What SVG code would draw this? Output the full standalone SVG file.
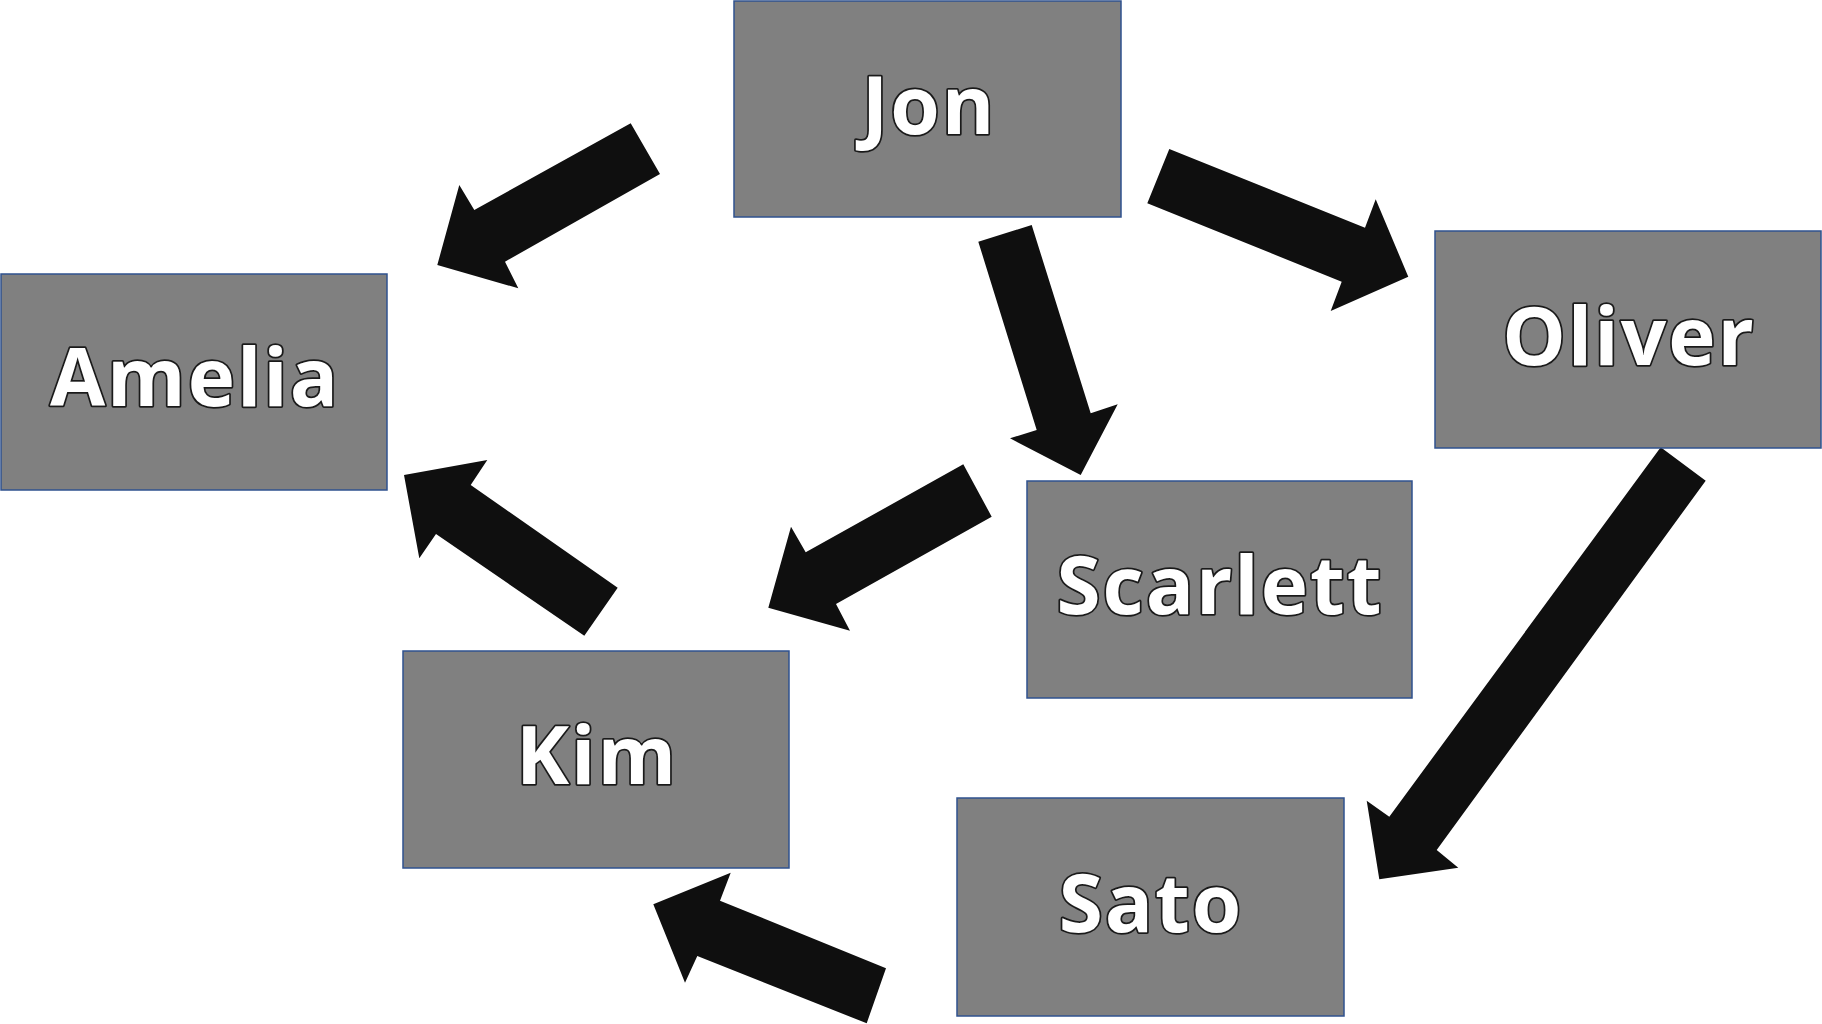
<svg xmlns="http://www.w3.org/2000/svg" width="1822" height="1024" viewBox="0 0 1822 1024">
<style>
.box{fill:#808080;stroke:#2f528f;stroke-width:1.5}
.lbl{font-family:"Open Sans","Noto Sans","Liberation Sans",sans-serif;font-weight:bold;font-size:80px;fill:#ffffff;stroke:#1a1a1a;stroke-width:3.5;paint-order:stroke fill;stroke-linejoin:round;text-anchor:middle;letter-spacing:2px}
.arr{fill:#0f0f0f}
</style>
<rect width="1822" height="1024" fill="#ffffff"/>
<g id="connectors">
<polygon class="arr" points="630.7,123.3 660,174 505,261.7 518.3,288.3 437.3,265 459.3,185 474.3,210"/>
<polygon class="arr" points="1169.3,149 1147.3,203.3 1341.7,281.7 1330.7,311 1408.3,276.7 1375.7,199.3 1365,227.7"/>
<polygon class="arr" points="978.3,241.7 1031.7,225 1090.7,413.3 1117.7,404.3 1080.7,475 1010,438.3 1036.7,430"/>
<polygon class="arr" points="963.3,464.3 991.7,516.7 836,604 850,630.7 768.3,607.7 791,526.7 805.7,552.3"/>
<polygon class="arr" points="617.7,587.7 584.3,635.7 436,534 419.3,558.3 404,475 487.3,460 470.7,485"/>
<polygon class="arr" points="1660.7,447.3 1705.7,480.7 1436.7,850 1458.3,867.7 1379.3,879.3 1366.7,800.7 1389.3,816.7"/>
<polygon class="arr" points="886,968.3 866.7,1023.3 697.3,956 685,982.7 653.3,904.3 730.7,872.7 720,900.7"/>
</g>
<g id="node-jon"><rect class="box" x="734" y="1" width="387" height="216"/><text class="lbl" x="929" y="134">Jon</text></g>
<g id="node-amelia"><rect class="box" x="1" y="274" width="386" height="216"/><text class="lbl" x="195" y="406">Amelia</text></g>
<g id="node-oliver"><rect class="box" x="1435" y="231" width="386" height="217"/><text class="lbl" x="1629" y="365">Oliver</text></g>
<g id="node-scarlett"><rect class="box" x="1027" y="481" width="385" height="217"/><text class="lbl" x="1220" y="614">Scarlett</text></g>
<g id="node-kim"><rect class="box" x="403" y="651" width="386" height="217"/><text class="lbl" x="597" y="784">Kim</text></g>
<g id="node-sato"><rect class="box" x="957" y="798" width="387" height="218"/><text class="lbl" x="1151" y="932">Sato</text></g>
</svg>
